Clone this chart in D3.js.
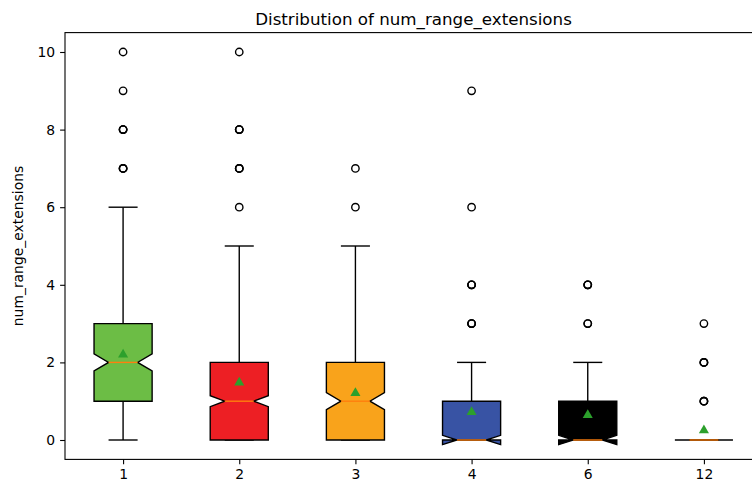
<!DOCTYPE html>
<html>
<head>
<meta charset="utf-8">
<script src="https://cdn.jsdelivr.net/npm/d3@7"></script>
<style>
body { margin: 0; background: #fff; }
svg { display: block; font-family: "DejaVu Sans", sans-serif; }
.tick text { font-size: 13.9px; fill: #000; }
</style>
</head>
<body>
<div id="chart"></div>
<script>
var width = 752;
var height = 485;

// one entry per group
var groups = ["1", "2", "3", "4", "6", "12"];
var colors = ["#6cbd45", "#ed1f24", "#f9a31b", "#3853a4", "#000000", "#7f7f7f"];
var q1 = [1, 0, 0, 0, 0, 0];
var medians = [2, 1, 1, 0, 0, 0];
var q3 = [3, 2, 2, 1, 1, 0];
var whiskerLow = [0, 0, 0, 0, 0, 0];
var whiskerHigh = [6, 5, 5, 2, 2, 0];
var notchLow = [1.78, 0.86, 0.78, -0.12, -0.12, 0];
var notchHigh = [2.22, 1.14, 1.22, 0.12, 0.12, 0];
var means = [2.2, 1.48, 1.21, 0.72, 0.64, 0.25];
// repeated values are overlapping outliers (drawn darker)
var fliers = [
  [10, 9, 8, 8, 8, 7, 7, 7],
  [10, 8, 8, 8, 7, 7, 7, 6],
  [7, 6],
  [9, 6, 4, 4, 4, 3, 3, 3],
  [4, 4, 4, 3, 3],
  [3, 2, 2, 2, 1, 1, 1]
];
var yTicks = [0, 2, 4, 6, 8, 10];

var margin = {left: 65, top: 32.6, bottom: 459.4, right: 762};

var svg = d3.select("#chart").append("svg")
  .attr("width", width)
  .attr("height", height);

var x = d3.scaleLinear().domain([0.5, groups.length + 0.5]).range([margin.left, margin.right]);
var y = d3.scaleLinear().domain([-0.5, 10.5]).range([margin.bottom, margin.top]);

var boxHalf = (x(1.25) - x(1));   // box width 0.5
var notchHalf = boxHalf * 0.5;
var capHalf = boxHalf * 0.5;

//Axes
svg.append("g")
  .attr("transform", "translate(" + margin.left + ",0)")
  .call(d3.axisLeft(y).tickValues(yTicks).tickSize(4.9).tickPadding(4.9))
  .call(function(g) { g.select(".domain").remove(); })
  .selectAll("line").attr("stroke", "#000").attr("stroke-width", 1.1);

svg.append("g")
  .attr("transform", "translate(0," + margin.bottom + ")")
  .call(d3.axisBottom(x).tickValues(d3.range(1, groups.length + 1))
    .tickFormat(function(d) { return groups[d - 1]; })
    .tickSize(4.9).tickPadding(4.9))
  .call(function(g) { g.select(".domain").remove(); })
  .selectAll("line").attr("stroke", "#000").attr("stroke-width", 1.1);

svg.selectAll(".tick text").attr("font-family", "DejaVu Sans");

svg.append("rect")
  .attr("x", margin.left)
  .attr("y", margin.top)
  .attr("width", margin.right - margin.left)
  .attr("height", margin.bottom - margin.top)
  .attr("fill", "none")
  .attr("stroke", "#000")
  .attr("stroke-width", 1.1);

//Boxes
var box = svg.selectAll("g.box")
  .data(groups)
  .enter().append("g")
  .attr("class", "box");

box.each(function(d, i) {
  var g = d3.select(this);
  var cx = x(i + 1);

  // whiskers
  [[q1[i], whiskerLow[i]], [q3[i], whiskerHigh[i]]].forEach(function(w) {
    g.append("line")
      .attr("x1", cx).attr("x2", cx)
      .attr("y1", y(w[0])).attr("y2", y(w[1]))
      .attr("stroke", "#000").attr("stroke-width", 1.39);
    g.append("line")
      .attr("x1", cx - capHalf).attr("x2", cx + capHalf)
      .attr("y1", y(w[1])).attr("y2", y(w[1]))
      .attr("stroke", "#000").attr("stroke-width", 1.39);
  });

  // notched box
  var L = cx - boxHalf, R = cx + boxHalf;
  var pts = [
    [L, y(q1[i])], [L, y(notchLow[i])], [cx - notchHalf, y(medians[i])],
    [L, y(notchHigh[i])], [L, y(q3[i])], [R, y(q3[i])],
    [R, y(notchHigh[i])], [cx + notchHalf, y(medians[i])], [R, y(notchLow[i])],
    [R, y(q1[i])]
  ];
  g.append("path")
    .attr("d", "M" + pts.join("L") + "Z")
    .attr("fill", colors[i])
    .attr("stroke", "#000")
    .attr("stroke-width", 1.39)
    .attr("stroke-linejoin", "miter");

  // median
  g.append("line")
    .attr("x1", cx - notchHalf).attr("x2", cx + notchHalf)
    .attr("y1", y(medians[i])).attr("y2", y(medians[i]))
    .attr("stroke", "#ff7f0e").attr("stroke-width", 1.39);

  // mean
  g.append("path")
    .attr("d", d3.symbol().type(d3.symbolTriangle).size(44))
    .attr("transform", "translate(" + cx + "," + y(means[i]) + ")")
    .attr("fill", "#2ca02c");

  // outliers
  g.selectAll("circle")
    .data(fliers[i])
    .enter().append("circle")
    .attr("cx", cx)
    .attr("cy", function(v) { return y(v); })
    .attr("r", 3.7)
    .attr("fill", "none")
    .attr("stroke", "#000")
    .attr("stroke-width", 1.39);
});

//Labels
svg.append("text")
  .attr("x", (margin.left + margin.right) / 2)
  .attr("y", 24.5)
  .attr("text-anchor", "middle")
  .attr("font-size", "16.7px")
  .text("Distribution of num_range_extensions");

svg.append("text")
  .attr("transform", "translate(23," + ((margin.top + margin.bottom) / 2) + ") rotate(-90)")
  .attr("text-anchor", "middle")
  .attr("font-size", "13.9px")
  .text("num_range_extensions");
</script>
</body>
</html>
